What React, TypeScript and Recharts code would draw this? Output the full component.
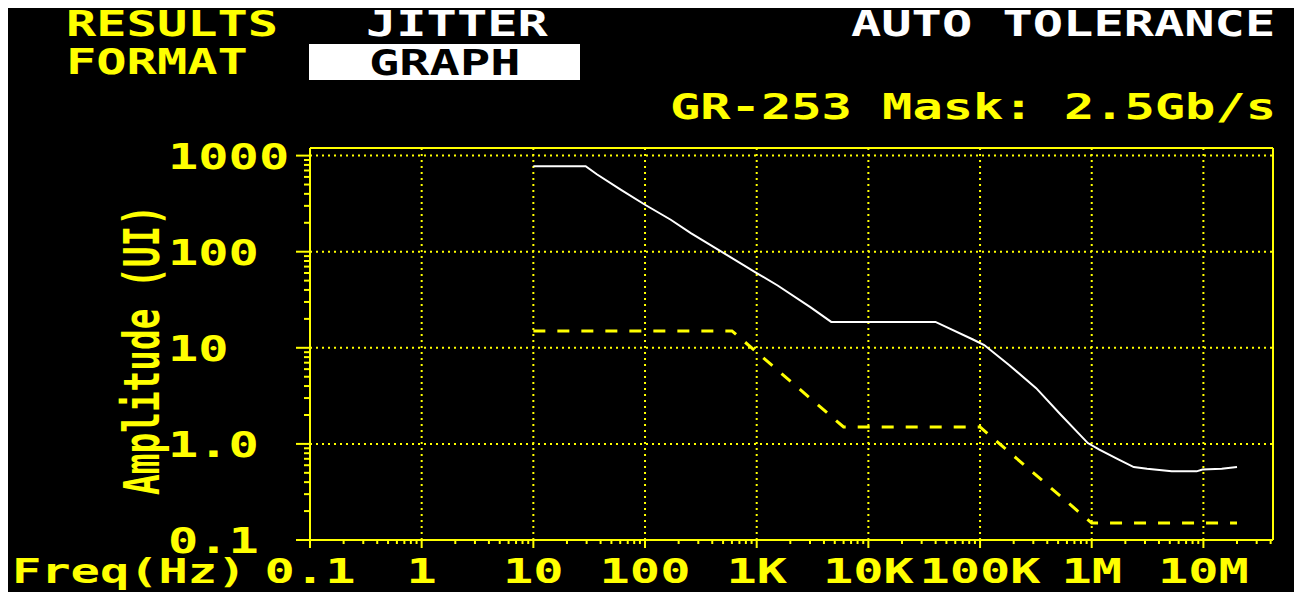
import React from 'react';
import { LineChart, Line, XAxis, YAxis, ReferenceLine } from 'recharts';

const YELLOW = '#ffff00';
const WHITE = '#ffffff';
const FONT = '"DejaVu Sans Mono", "Liberation Mono", monospace';
const PITCH = 30.3;

// measured tolerance (white trace)
const toleranceFreq = [10, 29.4, 37, 61, 100, 170, 257, 1000, 1540, 3020, 4650, 39900, 86400, 109000, 183000, 318000, 531000, 923000, 1170000, 1730000, 2380000, 3130000, 5200000, 8700000, 9800000, 14600000, 20000000];
const toleranceAmp = [776, 776, 640, 440, 308, 215, 156, 60, 44.5, 26.5, 18.6, 18.6, 12.2, 10.7, 6.6, 3.8, 2.0, 1.02, 0.87, 0.69, 0.574, 0.55, 0.518, 0.518, 0.54, 0.55, 0.574];

// GR-253 mask (yellow dashed)
const maskFreq = [10, 600, 6000, 100000, 1000000, 20000000];
const maskAmp = [15, 15, 1.5, 1.5, 0.15, 0.15];

const freqTicks = [0.1, 1, 10, 100, 1e3, 1e4, 1e5, 1e6, 1e7];
const freqLabels = ['0.1', '1', '10', '100', '1K', '10K', '100K', '1M', '10M'];
const ampTicks = [0.1, 1, 10, 100, 1000];
const ampLabels = ['0.1', '1.0', '10', '100', '1000'];

const FREQ_MAX = 4.2e7;
const AMP_MAX = 1200;

const toleranceData = toleranceFreq.map((f, i) => ({ f, amp: toleranceAmp[i] }));
const maskData = maskFreq.map((f, i) => ({ f, amp: maskAmp[i] }));

// log graduations 2..9 between the decades
const withMinor = (majors: number[], max: number) => {
  const out: number[] = [];
  majors.forEach(d => {
    out.push(d);
    for (let m = 2; m <= 9; m++) if (d * m < max) out.push(d * m);
  });
  return out;
};

const findMajor = (list: number[], v: number) => list.findIndex(t => Math.abs(t - v) / t < 1e-6);

const Txt = ({ x, y, text, fill = YELLOW, anchor = 'start', size = 36, pitch = PITCH }: any) => (
  <text
    x={x}
    y={y}
    fill={fill}
    fontFamily={FONT}
    fontWeight="bold"
    fontSize={size}
    textAnchor={anchor}
    textLength={text.length * pitch}
    lengthAdjust="spacingAndGlyphs"
  >
    {text}
  </text>
);

const FreqTick = (props: any) => {
  const { x, y, payload } = props;
  const i = findMajor(freqTicks, payload.value);
  if (i < 0) return <line x1={x} y1={y} x2={x} y2={y + 4} stroke={YELLOW} strokeWidth={2} />;
  return (
    <g>
      <line x1={x} y1={y} x2={x} y2={y + 8} stroke={YELLOW} strokeWidth={2} />
      <Txt x={x} y={575} text={freqLabels[i]} anchor="middle" size={34} />
    </g>
  );
};

const AmpTick = (props: any) => {
  const { x, y, payload } = props;
  const i = findMajor(ampTicks, payload.value);
  if (i < 0) return <line x1={x - 6} y1={y} x2={x} y2={y} stroke={YELLOW} strokeWidth={2} />;
  return (
    <g>
      <line x1={x - 14} y1={y} x2={x} y2={y} stroke={YELLOW} strokeWidth={2} />
      <Txt x={160} y={y + 13} text={ampLabels[i]} />
    </g>
  );
};

export default function App() {
  const grid = { stroke: YELLOW, strokeWidth: 2, strokeDasharray: '2 4' };
  return (
    <div style={{ position: 'relative', width: 1294, height: 584, background: '#000' }}>
      <LineChart width={1294} height={584} margin={{ top: 140, right: 29, bottom: 22, left: 242 }}>
        <XAxis
          dataKey="f"
          type="number"
          scale="log"
          domain={[0.1, FREQ_MAX]}
          allowDataOverflow
          ticks={withMinor(freqTicks, FREQ_MAX)}
          interval={0}
          tick={<FreqTick />}
          tickLine={false}
          tickSize={0}
          tickMargin={0}
          height={30}
          axisLine={{ stroke: YELLOW, strokeWidth: 2 }}
        />
        <YAxis
          dataKey="amp"
          type="number"
          scale="log"
          domain={[0.1, AMP_MAX]}
          allowDataOverflow
          ticks={withMinor(ampTicks, AMP_MAX)}
          interval={0}
          tick={<AmpTick />}
          tickLine={false}
          tickSize={0}
          tickMargin={0}
          width={60}
          axisLine={{ stroke: YELLOW, strokeWidth: 2 }}
        />
        {freqTicks.slice(1).map(v => (
          <ReferenceLine key={'vx' + v} x={v} {...grid} />
        ))}
        {ampTicks.slice(1).map(v => (
          <ReferenceLine key={'hy' + v} y={v} {...grid} />
        ))}
        <ReferenceLine y={AMP_MAX} stroke={YELLOW} strokeWidth={2} />
        <ReferenceLine x={FREQ_MAX} stroke={YELLOW} strokeWidth={2} />
        <Line
          data={maskData}
          dataKey="amp"
          type="linear"
          stroke={YELLOW}
          strokeWidth={3}
          strokeDasharray="12 12"
          dot={false}
          isAnimationActive={false}
        />
        <Line
          data={toleranceData}
          dataKey="amp"
          type="linear"
          stroke={WHITE}
          strokeWidth={2}
          dot={false}
          isAnimationActive={false}
        />
      </LineChart>
      {/* header + axis titles, drawn in page coordinates (svg starts at page y=0) */}
      <svg width={1294} height={592} style={{ position: 'absolute', left: 0, top: -8, pointerEvents: 'none' }}>
        <Txt x={58} y={36} text="RESULTS" size={35} />
        <Txt x={358} y={36} text="JITTER" fill={WHITE} size={35} />
        <Txt x={843} y={36} text="AUTO TOLERANCE" fill={WHITE} size={35} />
        <Txt x={58} y={74} text="FORMAT" size={35} />
        <rect x={301} y={44} width={271} height={36} fill={WHITE} />
        <Txt x={361} y={75} text="GRAPH" fill="#000" size={35} />
        <Txt x={662} y={119} text="GR-253 Mask: 2.5Gb/s" />
        <Txt x={4} y={583} text="Freq(Hz)" pitch={29.3} size={34} />
        <g transform="translate(151,350) rotate(-90)">
          <Txt x={0} y={0} text="Amplitude (UI)" anchor="middle" size={50} pitch={20.7} />
        </g>
      </svg>
    </div>
  );
}
